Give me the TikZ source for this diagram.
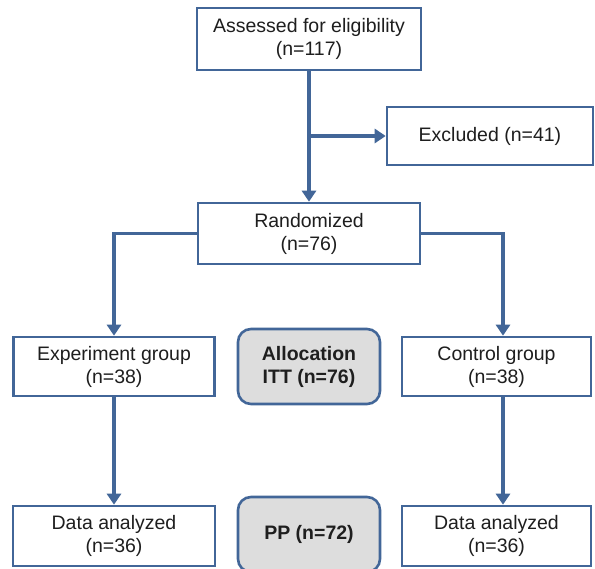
\documentclass[tikz,border=0pt]{standalone}
\usepackage{fontspec}
\setmainfont{Liberation Sans}
\usetikzlibrary{arrows.meta,calc}
\definecolor{lineblue}{RGB}{66,102,152}
\definecolor{boxgrey}{RGB}{221,221,221}
\definecolor{txt}{RGB}{30,30,30}
\begin{document}
\begin{tikzpicture}[x=1pt,y=-1pt,
  every node/.style={font=\fontsize{19.5}{23}\selectfont, text=txt, align=center, inner sep=0pt},
  flowbox/.style={draw=lineblue, line width=2.6pt, fill=white},
  greybox/.style={draw=lineblue, line width=2.6pt, fill=boxgrey, rounded corners=13pt, font=\fontsize{19.5}{23}\selectfont\bfseries},
  conn/.style={draw=lineblue, line width=3.2pt, -{Triangle[length=11pt,width=14pt]}}]
\useasboundingbox (0,0) rectangle (595,569);
\fill[white] (0,0) rectangle (595,569);
% boxes
\node[flowbox, minimum width=224pt, minimum height=62pt] (assess) at (309,39) {Assessed for eligibility\\(n=117)};
\node[flowbox, minimum width=206pt, minimum height=58pt] (excl) at (490,136) {Excluded (n=41)};
\node[flowbox, minimum width=222pt, minimum height=61pt] (rand) at (309,233.5) {Randomized\\(n=76)};
\node[flowbox, minimum width=201pt, minimum height=59pt] (exp) at (114,366.5) {Experiment group\\(n=38)};
\node[flowbox, minimum width=189pt, minimum height=59pt] (ctrl) at (496.5,366.5) {Control group\\(n=38)};
\node[greybox, minimum width=142pt, minimum height=75pt] (alloc) at (309,366.5) {Allocation\\ITT (n=76)};
\node[flowbox, minimum width=202pt, minimum height=60pt] (dexp) at (114,536) {Data analyzed\\(n=36)};
\node[flowbox, minimum width=189pt, minimum height=60pt] (dctrl) at (496.5,536) {Data analyzed\\(n=36)};
\node[greybox, minimum width=142pt, minimum height=75pt] (pp) at (309,534.5) {PP (n=72)};
% connectors
\coordinate (br) at (309,136);
\draw[conn] (assess.south) -- (rand.north);
\draw[conn] (br) -- (excl.west);
\draw[conn] (rand.west) -| (exp.north);
\coordinate (ctop) at ($(ctrl.north)+(6.5,0)$);
\draw[conn] (rand.east) -| (ctop);
\draw[conn] (exp.south) -- (dexp.north);
\coordinate (cbot) at ($(ctrl.south)+(6.5,0)$);
\coordinate (dtop) at ($(dctrl.north)+(6.5,0)$);
\draw[conn] (cbot) -- (dtop);
\end{tikzpicture}
\end{document}
